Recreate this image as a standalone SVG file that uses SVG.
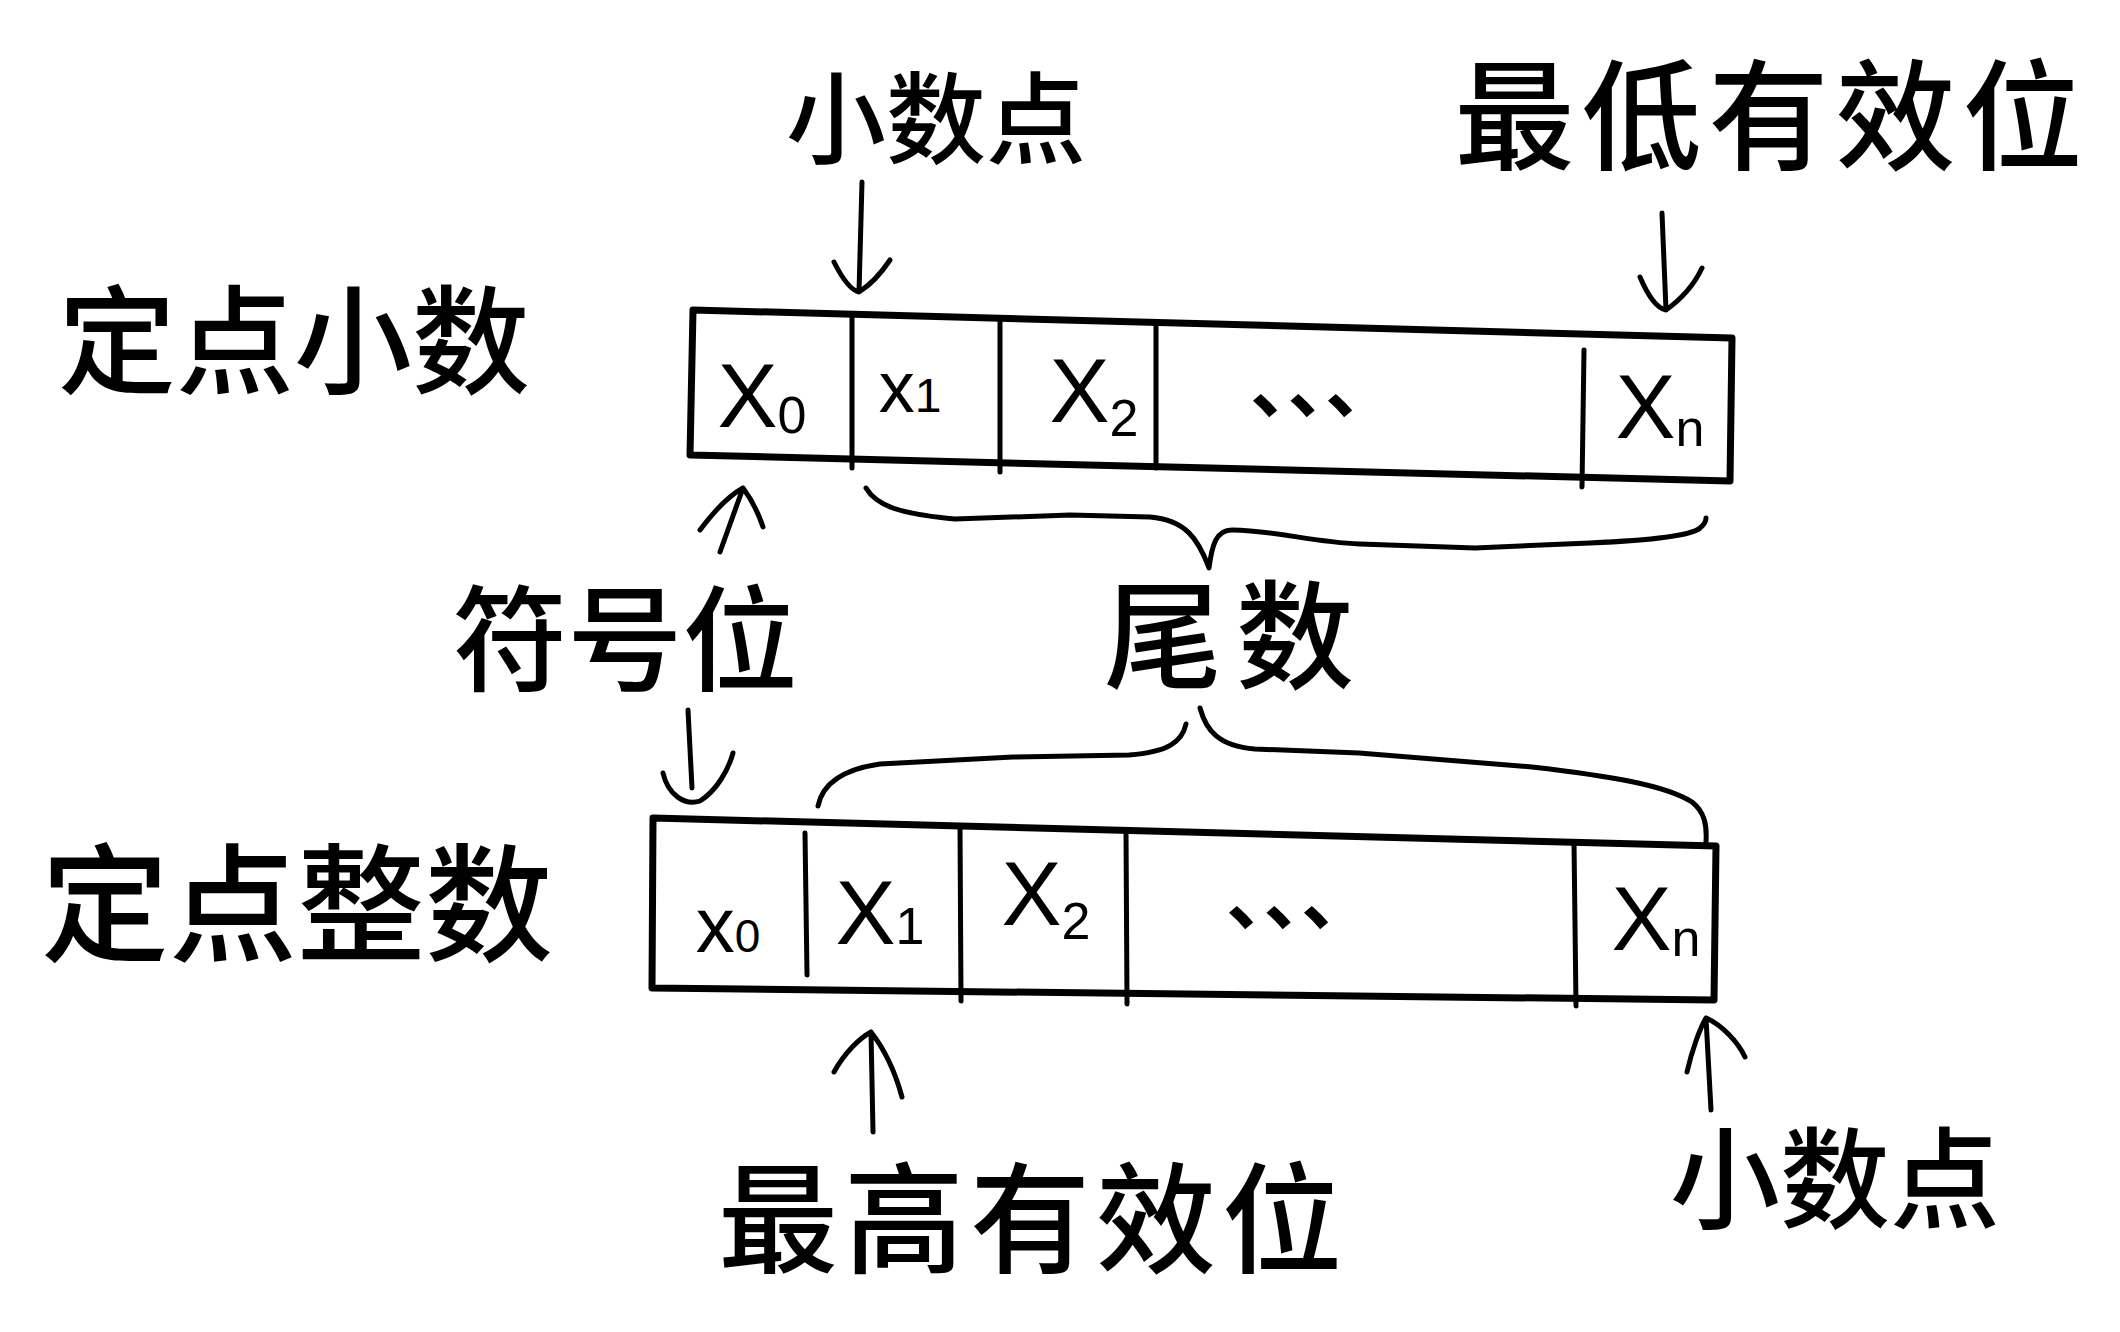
<svg xmlns="http://www.w3.org/2000/svg" width="2120" height="1332" viewBox="0 0 2120 1332">
<style>
  .bg{fill:#ffffff}
  .box{fill:none;stroke:#000;stroke-width:7;stroke-linejoin:round;stroke-linecap:round}
  .div{fill:none;stroke:#000;stroke-width:5;stroke-linecap:round}
  .ln{fill:none;stroke:#000;stroke-width:5;stroke-linecap:round;stroke-linejoin:round}
  .cjk{font-family:"Noto Sans CJK SC","Noto Sans CJK JP",sans-serif;fill:#000;font-weight:500}
  .cell{font-family:"Liberation Sans","DejaVu Sans",sans-serif;fill:#000;font-size:90px;text-anchor:middle}
  .sub{font-size:52px}
  .dots{font-family:"Noto Sans CJK SC",sans-serif;fill:#000;font-size:75px;font-weight:700}
</style>
<rect class="bg" x="0" y="0" width="2120" height="1332"/>

<g id="fixed-fraction-register">
  <path class="box" d="M693,310 L1732,338 L1730,481 L690,455 Z"/>
  <line class="div" x1="852" y1="316" x2="852" y2="468"/>
  <line class="div" x1="1000" y1="320" x2="1000" y2="472"/>
  <line class="div" x1="1156" y1="324" x2="1156" y2="468"/>
  <line class="div" x1="1584" y1="350" x2="1582" y2="487"/>
  <text class="cell" x="762" y="427">X<tspan class="sub" dy="6">0</tspan></text>
  <text class="cell" x="910" y="412" style="font-size:72px">x<tspan class="sub" style="font-size:48px" dy="0">1</tspan></text>
  <text class="cell" x="1094" y="422">X<tspan class="sub" dy="14">2</tspan></text>
  <text class="dots" x="1250" y="412">、、、</text>
  <text class="cell" x="1660" y="438">X<tspan class="sub" dy="8">n</tspan></text>
</g>

<g id="fixed-integer-register">
  <path class="box" d="M653,818 L1716,846 L1714,1000 L652,988 Z"/>
  <line class="div" x1="805" y1="833" x2="807" y2="975"/>
  <line class="div" x1="960" y1="826" x2="961" y2="1001"/>
  <line class="div" x1="1126" y1="830" x2="1127" y2="1004"/>
  <line class="div" x1="1574" y1="842" x2="1576" y2="1006"/>
  <text class="cell" x="728" y="952" style="font-size:78px">x<tspan class="sub" style="font-size:46px" dy="0">0</tspan></text>
  <text class="cell" x="880" y="944">X<tspan class="sub" dy="0">1</tspan></text>
  <text class="cell" x="1046" y="925">X<tspan class="sub" dy="14">2</tspan></text>
  <text class="dots" x="1226" y="924">、、、</text>
  <text class="cell" x="1656" y="950">X<tspan class="sub" dy="6">n</tspan></text>
</g>

<g id="label-fixed-fraction"><text class="cjk" x="294" y="385" font-size="118" text-anchor="middle">定点小数</text></g>
<g id="label-fixed-integer"><text class="cjk" x="297" y="952" font-size="128" text-anchor="middle">定点整数</text></g>
<g id="label-decimal-point-top"><text class="cjk" x="936" y="156" font-size="100" text-anchor="middle">小数点</text></g>
<g id="label-lsb"><text class="cjk" x="1772" y="161" font-size="120" letter-spacing="7" text-anchor="middle">最低有效位</text></g>
<g id="label-sign-bit"><text class="cjk" x="625" y="682" font-size="115" text-anchor="middle">符号位</text></g>
<g id="label-mantissa"><text class="cjk" x="1236" y="680" font-size="118" letter-spacing="14" text-anchor="middle">尾数</text></g>
<g id="label-msb"><text class="cjk" x="1033" y="1264" font-size="120" letter-spacing="6" text-anchor="middle">最高有效位</text></g>
<g id="label-decimal-point-bottom"><text class="cjk" x="1835" y="1220" font-size="110" text-anchor="middle">小数点</text></g>

<g id="connectors">
  <!-- top decimal point arrow -->
  <path class="ln" d="M862,182 L859,292 M834,262 C842,278 850,290 859,292 C870,285 882,272 890,260"/>
  <!-- LSB arrow -->
  <path class="ln" d="M1662,213 L1666,310 M1640,277 C1648,296 1656,308 1666,310 C1680,300 1694,285 1702,268"/>
  <!-- sign bit up arrow -->
  <path class="ln" d="M720,552 L743,488 M700,530 C715,510 730,495 743,488 C752,500 758,512 763,527"/>
  <!-- sign bit down arrow -->
  <path class="ln" d="M688,710 L692,788 M663,773 C668,795 685,806 700,801 C716,791 728,771 733,753"/>
  <!-- MSB up arrow -->
  <path class="ln" d="M873,1132 L871,1032 M834,1072 C845,1052 860,1038 871,1032 C885,1050 896,1075 902,1097"/>
  <!-- bottom decimal point up arrow -->
  <path class="ln" d="M1711,1110 L1706,1018 M1687,1072 C1692,1050 1700,1028 1706,1018 C1722,1025 1738,1042 1745,1057"/>
  <!-- top brace (mantissa) -->
  <path class="ln" d="M866,488 C876,505 898,514 955,519 L1070,515 L1150,517 C1185,520 1198,538 1209,568 C1212,545 1216,530 1232,530 C1280,531 1310,542 1360,544 L1475,548 L1590,543 C1660,540 1692,535 1700,528 C1705,524 1706,520 1706,518"/>
  <!-- bottom brace (mantissa) left branch -->
  <path class="ln" d="M818,806 C822,786 838,770 880,764 L1013,757 L1129,755 C1168,752 1182,742 1186,724"/>
  <!-- bottom brace right branch -->
  <path class="ln" d="M1200,708 C1206,730 1218,746 1255,749 L1359,753 L1532,767 C1610,776 1665,785 1692,802 C1705,812 1707,826 1706,842"/>
</g>
</svg>
